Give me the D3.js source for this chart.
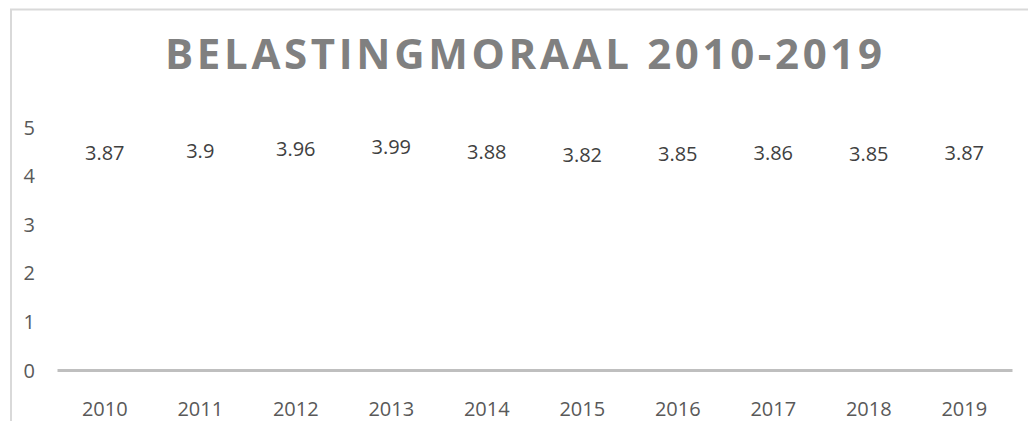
<!DOCTYPE html>
<html>
<head>
<meta charset="utf-8">
<script src="https://d3js.org/d3.v7.min.js"></script>
<style>
  body { margin: 0; background: #fff; }
  svg { display: block; font-family: "Open Sans", sans-serif; }
</style>
</head>
<body>
<script>
// data
const years = ["2010","2011","2012","2013","2014","2015","2016","2017","2018","2019"]
const moraal = [3.87, 3.9, 3.96, 3.99, 3.88, 3.82, 3.85, 3.86, 3.85, 3.87]
const yTicks = [0, 1, 2, 3, 4, 5]
const title = "BELASTINGMORAAL 2010-2019"

const width = 1028, height = 421

let svg = d3.select("body").append("svg")
  .attr("width", width)
  .attr("height", height)

// chart frame (only top and left edges are visible in the crop)
svg.append("path")
  .attr("d", "M11,421V9.5H1028")
  .attr("fill", "none")
  .attr("stroke", "#d9d9d9")
  .attr("stroke-width", 2)

svg.append("text")
  .attr("x", 523.5)
  .attr("y", 69)
  .attr("text-anchor", "middle")
  .attr("font-size", 42)
  .attr("font-weight", "bold")
  .attr("fill", "#808080")
  .attr("textLength", 717)
  .attr("lengthAdjust", "spacing")
  .text(title)

let x = d3.scaleBand().domain(years).range([57, 1012])
let y = d3.scaleLinear().domain([0, 5]).range([370, 127])

// x axis
let gx = svg.append("g")
  .attr("transform", "translate(0,370)")
  .call(d3.axisBottom(x).tickSize(0).tickSizeOuter(0).tickPadding(0))
gx.select(".domain")
  .attr("stroke", "#bfbfbf")
  .attr("stroke-width", 3)
gx.selectAll("text")
  .attr("y", 46)
  .attr("dy", null)
  .attr("font-size", 20)
  .attr("font-family", "Open Sans, sans-serif")
  .attr("fill", "#595959")

// y axis, labels only
let gy = svg.append("g")
  .attr("transform", "translate(35,0)")
  .call(d3.axisLeft(y).tickValues(yTicks).tickSize(0).tickPadding(0).tickFormat(d3.format("d")))
gy.select(".domain").remove()
gy.selectAll("text")
  .attr("dy", "0.35em")
  .attr("font-size", 20)
  .attr("font-family", "Open Sans, sans-serif")
  .attr("fill", "#595959")

// the series line has no visible stroke, only its labels show
svg.append("path")
  .datum(moraal)
  .attr("d", d3.line()
    .x((d, i) => x(years[i]) + x.bandwidth() / 2)
    .y(d => y(d)))
  .attr("fill", "none")
  .attr("stroke", "none")

svg.append("g")
  .selectAll("text")
  .data(moraal)
  .join("text")
  .attr("x", (d, i) => x(years[i]) + x.bandwidth() / 2)
  .attr("y", d => y(d) - 22)
  .attr("text-anchor", "middle")
  .attr("font-size", 20)
  .attr("fill", "#404040")
  .text(d => d)
</script>
</body>
</html>
